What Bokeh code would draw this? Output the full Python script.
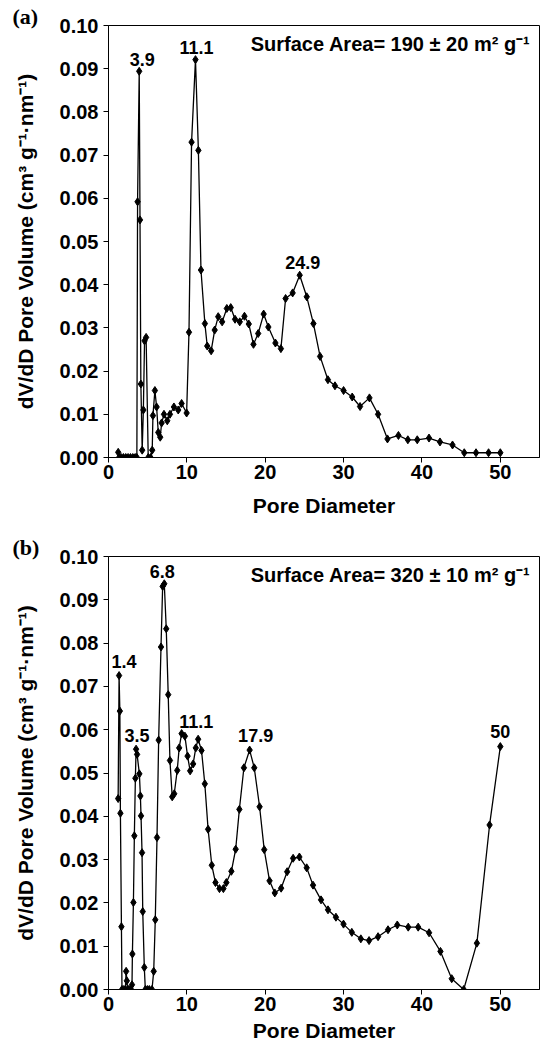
from bokeh.plotting import figure
from bokeh.models import Range1d, FixedTicker, PrintfTickFormatter, Label, ColumnDataSource
from bokeh.layouts import column
from bokeh.embed import file_html
from bokeh.resources import INLINE
from bokeh.core.properties import value

# ---------------- data ----------------
x_a = [1.24, 1.35, 1.6, 1.9, 2.2, 2.5, 2.8, 3.1, 3.4, 3.62,
       3.71, 3.92, 4.02, 4.13, 4.3, 4.45, 4.6, 4.8, 5.07, 5.37,
       5.58, 5.67, 5.92, 6.14, 6.35, 6.6, 6.78, 7.08, 7.5, 7.84,
       8.35, 8.9, 9.33, 9.97, 10.27, 10.6, 11.1, 11.47, 11.8, 12.3,
       12.6, 13.1, 13.55, 14.0, 14.5, 15.1, 15.6, 16.15, 16.75, 17.35,
       17.9, 18.5, 19.1, 19.8, 20.4, 21.3, 22.0, 22.6, 23.5, 24.4,
       25.3, 26.15, 27.0, 28.0, 28.9, 30.0, 31.1, 32.1, 33.3, 34.4,
       35.6, 37.0, 38.2, 39.4, 40.9, 42.3, 43.9, 45.4, 46.9, 48.5, 50.0]
y_a = [0.0012, 0.0, 0.0, 0.0, 0.0, 0.0, 0.0, 0.0, 0.0, 0.0,
       0.0592, 0.0894, 0.0550, 0.0170, 0.0017, 0.0110, 0.0270, 0.0278, 0.0, 0.0,
       0.0017, 0.0097, 0.0155, 0.0117, 0.0058, 0.0047, 0.0080, 0.0100, 0.0085, 0.0100,
       0.0117, 0.0110, 0.0125, 0.0103, 0.0290, 0.0730, 0.0921, 0.0711, 0.0434, 0.0310,
       0.0258, 0.0247, 0.0295, 0.0326, 0.0314, 0.0345, 0.0347, 0.0320, 0.0314, 0.0327,
       0.0309, 0.0262, 0.0287, 0.0332, 0.0302, 0.0265, 0.0252, 0.0368, 0.0381, 0.0422,
       0.0372, 0.0310, 0.0234, 0.0180, 0.0166, 0.0155, 0.0140, 0.0118, 0.0138, 0.0100,
       0.0043, 0.0051, 0.0041, 0.0041, 0.0045, 0.0036, 0.0029, 0.0011, 0.0011, 0.0011, 0.0011]

x_b = [1.23, 1.35, 1.45, 1.52, 1.65, 1.72, 1.96, 2.15, 2.25, 2.34,
       2.45, 2.59, 2.88, 3.0, 3.05, 3.18, 3.30, 3.43, 3.52, 3.65,
       3.94, 4.07, 4.15, 4.28, 4.37, 4.57, 4.70, 4.96, 5.21, 5.55,
       5.77, 5.97, 6.19, 6.40, 6.70, 6.91, 7.12, 7.37, 7.62, 7.84,
       8.13, 8.39, 8.77, 9.02, 9.33, 9.75, 10.09, 10.42, 10.80, 11.14,
       11.44, 11.87, 12.29, 12.71, 13.18, 13.65, 14.16, 14.66, 15.04, 15.68,
       16.23, 16.70, 17.28, 18.01, 18.60, 19.28, 19.87, 20.55, 21.22, 22.03,
       22.80, 23.56, 24.36, 25.29, 26.10, 27.12, 28.01, 29.02, 29.99, 31.05,
       32.20, 33.25, 34.40, 35.67, 36.85, 38.25, 39.52, 40.91, 42.36, 43.80,
       45.33, 47.01, 48.63, 50.0]
y_b = [0.0441, 0.0725, 0.0643, 0.0407, 0.0145, 0.0, 0.0, 0.0, 0.0042, 0.0020,
       0.0, 0.0, 0.0, 0.0011, 0.0082, 0.0201, 0.0355, 0.0488, 0.0555, 0.0543,
       0.0498, 0.0447, 0.0401, 0.0316, 0.0180, 0.0051, 0.0, 0.0, 0.0, 0.0,
       0.0042, 0.0161, 0.0351, 0.0576, 0.0791, 0.0931, 0.0937, 0.0833, 0.0681, 0.0529,
       0.0445, 0.0452, 0.0506, 0.0558, 0.0591, 0.0585, 0.0539, 0.0505, 0.0521, 0.0558,
       0.0578, 0.0552, 0.0475, 0.0370, 0.0287, 0.0247, 0.0233, 0.0233, 0.0247, 0.0273,
       0.0324, 0.0416, 0.0512, 0.0553, 0.0512, 0.0422, 0.0323, 0.0251, 0.0223, 0.0234,
       0.0272, 0.0303, 0.0306, 0.0281, 0.0241, 0.0207, 0.0184, 0.0167, 0.0151, 0.0132,
       0.0117, 0.0113, 0.0122, 0.0138, 0.0149, 0.0144, 0.0144, 0.0131, 0.0088, 0.0025,
       0.0, 0.0107, 0.0380, 0.0561]

peaks_a = ["3.9", "11.1", "24.9"]
peaks_b = ["1.4", "3.5", "6.8", "11.1", "17.9", "50"]

area_a = "Surface Area= 190 ± 20 m² g⁻¹"
area_b = "Surface Area= 320 ± 10 m² g⁻¹"

x_ticks = [0, 10, 20, 30, 40, 50]
y_ticks = [0.00, 0.01, 0.02, 0.03, 0.04, 0.05, 0.06, 0.07, 0.08, 0.09, 0.10]
x_title = "Pore Diameter"
y_title = "dV/dD Pore Volume (cm³ g⁻¹·nm⁻¹)"

# ---------------- styles ----------------
SANS = "Liberation Sans"
SERIF = "Liberation Serif"
# pixel offsets of peak labels relative to their peak point
offsets_a = {"3.9": (3, -12), "11.1": (1, -12), "24.9": (3, -13)}
offsets_b = {"1.4": (5, -14), "3.5": (1, -14), "6.8": (-2, -12),
             "11.1": (-2, -18), "17.9": (6, -15), "50": (0, -15)}


def peak_index(xs, ys, lab):
    target = float(lab)
    best, bestd = None, 1e9
    for i in range(len(xs)):
        left = ys[i - 1] if i > 0 else -1
        right = ys[i + 1] if i < len(ys) - 1 else -1
        if ys[i] >= left and ys[i] >= right and ys[i] > 0:
            d = abs(xs[i] - target)
            if d < bestd:
                best, bestd = i, d
    return best


def make_panel(xs, ys, peaks, offsets, area, tag, height, top, bottom, xlab_standoff):
    p = figure(width=541, height=height, output_backend="svg", toolbar_location=None,
               x_range=Range1d(0, 55), y_range=Range1d(0, 0.10),
               min_border_left=108, min_border_right=2,
               min_border_top=top, min_border_bottom=bottom, title=tag)
    p.title.align = "left"
    p.title.offset = -96
    p.title.standoff = -6
    p.title.text_font = SERIF
    p.title.text_font_style = "bold"
    p.title.text_font_size = "22px"
    p.title.text_color = "black"

    p.xgrid.visible = False
    p.ygrid.visible = False
    p.outline_line_color = "black"
    p.outline_line_alpha = 1
    p.outline_line_width = 1
    p.background_fill_color = "white"
    p.border_fill_color = "white"

    for ax in (p.xaxis[0], p.yaxis[0]):
        ax.axis_line_color = "black"
        ax.major_tick_line_color = "black"
        ax.minor_tick_line_color = None
        ax.major_tick_in = 0
        ax.major_tick_out = 5
        ax.major_label_text_font = SANS
        ax.major_label_text_font_style = "bold"
        ax.major_label_text_font_size = "20px"
        ax.major_label_text_color = "black"
        ax.axis_label_text_font = SANS
        ax.axis_label_text_font_style = "bold"
        ax.axis_label_text_font_size = "21px"
        ax.axis_label_text_color = "black"

    p.xaxis.ticker = FixedTicker(ticks=x_ticks)
    p.yaxis.ticker = FixedTicker(ticks=y_ticks)
    p.yaxis.formatter = PrintfTickFormatter(format="%.2f")
    p.xaxis.axis_label = x_title
    p.yaxis.axis_label = y_title
    p.xaxis.major_label_standoff = 2
    p.xaxis.axis_label_standoff = xlab_standoff
    p.yaxis.major_label_standoff = 5
    p.yaxis.axis_label_standoff = 20

    p.line(xs, ys, line_color="black", line_width=1.3)
    p.scatter(xs, ys, marker="diamond", size=8, fill_color="black", line_color="black")

    px, py, pt, ox, oy = [], [], [], [], []
    for lab in peaks:
        i = peak_index(xs, ys, lab)
        px.append(xs[i]); py.append(ys[i]); pt.append(lab)
        ox.append(offsets[lab][0]); oy.append(offsets[lab][1])
    src = ColumnDataSource(dict(x=px, y=py, t=pt, ox=ox, oy=oy))
    p.text(x="x", y="y", text="t", x_offset="ox", y_offset="oy", source=src,
           text_font=value(SANS), text_font_style="bold", text_font_size="18px",
           text_align="center", text_baseline="middle", text_color="black")

    p.add_layout(Label(x=55, y=0.10, x_offset=-9, y_offset=-18, text=area,
                       text_font=SANS, text_font_style="bold", text_font_size="20px",
                       text_align="right", text_baseline="middle", text_color="black"))
    return p


pa = make_panel(x_a, y_a, peaks_a, offsets_a, area_a, "(a)", 530, 25, 73, 12)
pb = make_panel(x_b, y_b, peaks_b, offsets_b, area_b, "(b)", 516, 26, 57, 5)

layout = column(pa, pb, spacing=0)
open("out.html", "w").write(file_html(layout, INLINE))
